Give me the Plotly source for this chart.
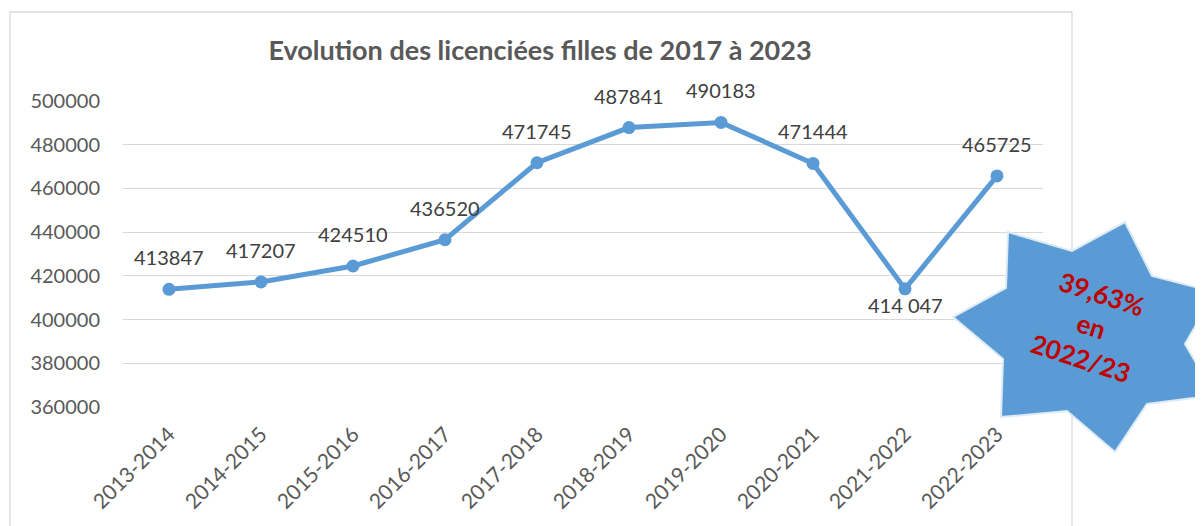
import plotly.graph_objects as go

# ---- data ----
seasons = ["2013-2014", "2014-2015", "2015-2016", "2016-2017", "2017-2018",
           "2018-2019", "2019-2020", "2020-2021", "2021-2022", "2022-2023"]
licenciees = [413847, 417207, 424510, 436520, 471745, 487841, 490183, 471444, 414047, 465725]
value_labels = ["413847", "417207", "424510", "436520", "471745",
                "487841", "490183", "471444", "414 047", "465725"]
y_ticks = [360000, 380000, 400000, 420000, 440000, 460000, 480000, 500000]
title_text = "Evolution des licenciées filles de 2017 à 2023"
star_text = "39,63%<br>en<br>2022/23"

# ---- geometry (page body has an 8px margin) ----
OFF = 8
W, H = 1203 - OFF, 526 - OFF
L, R, T, B = 123 - OFF, 160, 101 - OFF, 119
PW, PH = W - L - R, H - T - B


def px(xp):
    return (xp - OFF - L) / PW


def py(yp):
    return (H - B - (yp - OFF)) / PH


BLUE = "#5B9BD5"
FONT = "Lato, 'Open Sans', sans-serif"

fig = go.Figure()
fig.add_trace(go.Scatter(
    x=seasons, y=licenciees, mode="lines+markers",
    line=dict(color=BLUE, width=5),
    marker=dict(color=BLUE, size=13),
    hoverinfo="skip", showlegend=False,
))

annotations = []
below = {"414 047"}
for s, v, t in zip(seasons, licenciees, value_labels):
    annotations.append(dict(
        x=s, y=v, xref="x", yref="y", text=t, showarrow=False,
        xanchor="center", yanchor="middle",
        yshift=-16 if t in below else 32,
        font=dict(family=FONT, size=20, color="#404040"),
    ))

# star burst (decoration)
star_px = [(1008, 232), (1072, 251), (1125, 222), (1152, 276), (1215, 292),
           (1185, 344), (1215, 395), (1147, 404), (1115, 452), (1067, 411),
           (1001, 417), (1003, 359), (953, 317), (1006, 288)]
path = "M " + " L ".join(f"{px(a):.5f},{py(b):.5f}" for a, b in star_px) + " Z"

shapes = [
    dict(type="rect", xref="paper", yref="paper",
         x0=px(10), x1=px(1072), y0=py(540), y1=py(12),
         line=dict(color="#D9D9D9", width=1.3), fillcolor="rgba(0,0,0,0)",
         layer="below"),
    dict(type="path", xref="paper", yref="paper", path=path,
         fillcolor=BLUE, line=dict(color="#DDEBF7", width=2), layer="above"),
]

annotations.append(dict(
    x=px(1091), y=py(326), xref="paper", yref="paper", text=star_text,
    showarrow=False, textangle=18, xanchor="center", yanchor="middle",
    font=dict(family=FONT, size=26, color="#C00000", weight="bold"),
))

fig.update_layout(
    width=W, height=H, autosize=False,
    margin=dict(l=L, r=R, t=T, b=B, pad=0),
    paper_bgcolor="white", plot_bgcolor="white",
    title=dict(text=f"<b>{title_text}</b>", x=(540 - OFF) / W, xref="container",
               xanchor="center", y=1 - (51 - OFF) / H, yref="container",
               yanchor="middle",
               font=dict(family=FONT, size=27, color="#595959")),
    xaxis=dict(range=[-0.5, 9.5], tickangle=-45, showgrid=False, showline=False,
               zeroline=False, ticks="", ticklabelstandoff=10,
               tickfont=dict(family=FONT, size=21, color="#595959")),
    yaxis=dict(range=[360000, 500000], tickvals=y_ticks, tickformat="d",
               showgrid=True, gridcolor="#D9D9D9", gridwidth=1.3,
               zeroline=False, showline=False, ticks="", ticklabelstandoff=22,
               tickfont=dict(family=FONT, size=20, color="#595959")),
    shapes=shapes, annotations=annotations,
)

fig.write_html("out.html")
